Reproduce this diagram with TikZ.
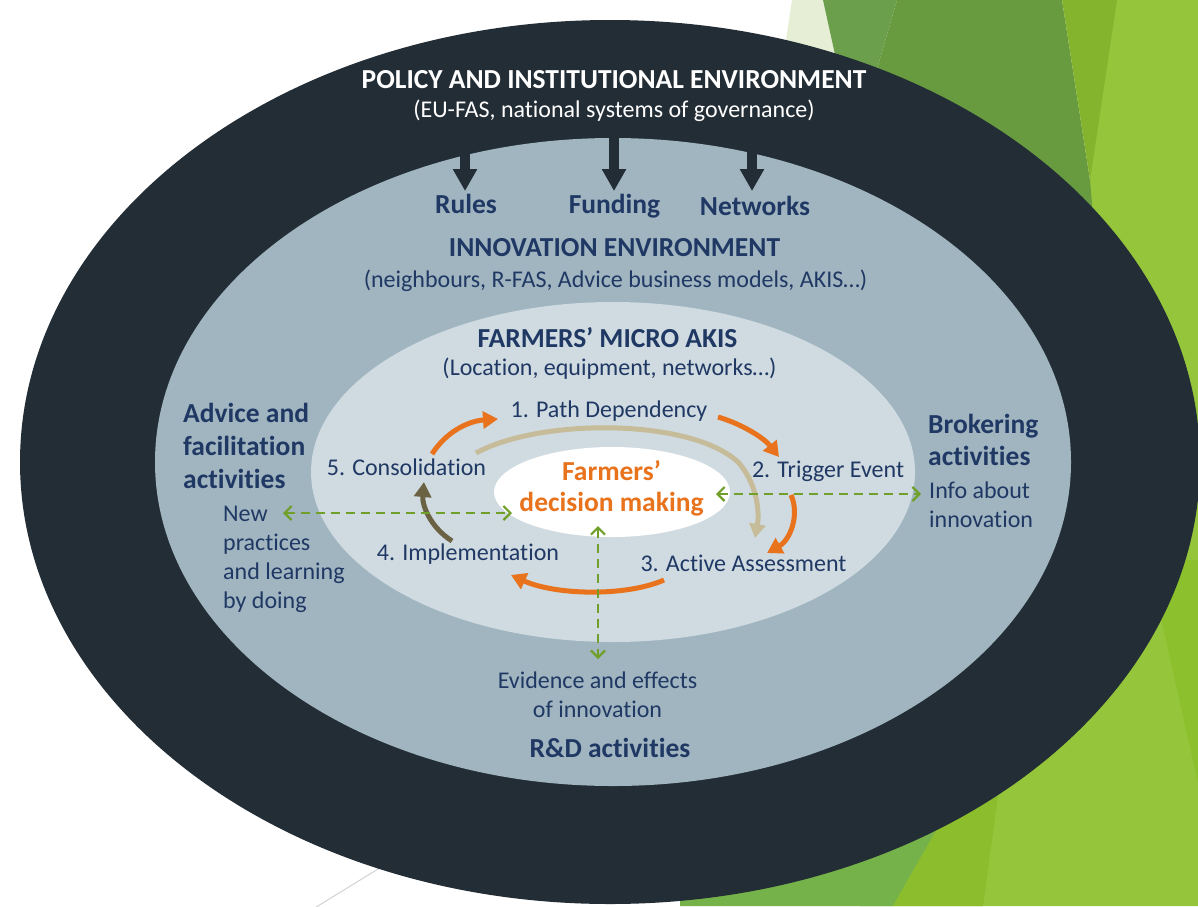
\documentclass[tikz,border=0pt]{standalone}
\usepackage{fontspec}
\setmainfont{Carlito}[Ligatures=NoCommon]
\usetikzlibrary{arrows.meta}
\definecolor{dark}{HTML}{232D35}
\definecolor{midring}{HTML}{A0B5C0}
\definecolor{inring}{HTML}{CFDBE0}
\definecolor{navy}{HTML}{203864}
\definecolor{orng}{HTML}{E8731C}
\definecolor{tanc}{HTML}{C7BC9A}
\definecolor{brn}{HTML}{6B6244}
\definecolor{dgreen}{HTML}{70A02A}
\definecolor{bgLight}{HTML}{E6EFD6}
\definecolor{bgMidL}{HTML}{6C9F4C}
\definecolor{bgMid}{HTML}{689A3F}
\definecolor{bgYG}{HTML}{84B32E}
\definecolor{bgLime}{HTML}{94C53B}
\definecolor{bgLimeB}{HTML}{8CC02C}
\definecolor{bgGreen}{HTML}{76B24A}
\definecolor{bgYGB}{HTML}{8BBD2D}
\tikzset{
  headtxt/.style={font=\fontsize{27.5}{33}\selectfont\bfseries, text=navy, inner sep=0pt},
  bodytxt/.style={font=\fontsize{24}{29}\selectfont, text=navy, inner sep=0pt},
  cycarrow/.style={line width=5pt, draw=orng, -{Triangle[length=15pt,width=17pt]}},
  bigarrow/.style={line width=9.5pt, draw=dark, -{Triangle[length=22pt,width=23pt]}},
  linkarrow/.style={line width=2.2pt, draw=dgreen, dash pattern=on 9pt off 6pt,
     {Straight Barb[length=7pt,width=14pt]}-{Straight Barb[length=7pt,width=14pt]}},
}
\begin{document}
\begin{tikzpicture}[x=1pt,y=-1pt]
\useasboundingbox (0,0) rectangle (1198,906);
\clip (0,0) rectangle (1198,906);
\fill[white] (0,0) rectangle (1198,906);
% background theme shapes
\fill[bgLime] (1090,0) -- (1198,0) -- (1198,906) -- (860,906) -- (1000,300) -- (1090,180) -- cycle;
\fill[bgLight] (792,0) -- (823,0) -- (848,80) -- (780,80) -- cycle;
\fill[bgMidL] (823,0) -- (897,0) -- (868,100) -- (845,100) -- cycle;
\fill[bgMid] (897,0) -- (1062,0) -- (1090,180) -- (1095,240) -- (850,240) -- (868,100) -- cycle;
\fill[bgYG] (1062,0) -- (1117,0) -- (1090,180) -- cycle;
\fill[bgLimeB] (1148,560) -- (1198,560) -- (1198,783) -- cycle;
\fill[bgGreen] (680,906) -- (893,906) -- (965,780) -- (680,780) -- cycle;
\fill[bgYGB] (893,906) -- (983,906) -- (1011,700) -- cycle;
\draw[gray!35, line width=1pt] (300,917) -- (430,837);
% rings
\fill[dark] (610,462) ellipse [x radius=590, y radius=442];
\fill[midring] (613,462) ellipse [x radius=458, y radius=324];
\fill[inring] (613,472) ellipse [x radius=302, y radius=170];
\fill[white] (612,492) ellipse [x radius=118, y radius=45];
% texts
\node[headtxt, text=white, anchor=base] (policy) at (614,88) {POLICY AND INSTITUTIONAL ENVIRONMENT};
\node[bodytxt, text=white, anchor=base] (eufas) at (614,117) {(EU-FAS, national systems of governance)};
\node[headtxt, anchor=base] (rules) at (466,213) {Rules};
\node[headtxt, anchor=base] (funding) at (614.5,213) {Funding};
\node[headtxt, anchor=base] (networks) at (755,215) {Networks};
\node[headtxt, anchor=base] (innov) at (614.5,256) {INNOVATION ENVIRONMENT};
\node[bodytxt, anchor=base] (innovsub) at (615.5,287) {(neighbours, R-FAS, Advice business models, AKIS…)};
\node[headtxt, anchor=base] (micro) at (607.5,347) {FARMERS’ MICRO AKIS};
\node[bodytxt, anchor=base] (microsub) at (609.5,375) {(Location, equipment, networks…)};
\node[bodytxt, anchor=base] (s1) at (609,417) {1. Path Dependency};
\node[bodytxt, anchor=base] (s5) at (406.5,475) {5. Consolidation};
\node[bodytxt, anchor=base] (s2) at (828,477) {2. Trigger Event};
\node[bodytxt, anchor=base] (s4) at (468,560) {4. Implementation};
\node[bodytxt, anchor=base] (s3) at (743.5,571) {3. Active Assessment};
\node[headtxt, font=\fontsize{27.5}{31}\selectfont\bfseries, text=orng, align=center, anchor=base] (dm) at (611.5,511) {Farmers’\\decision making};
\node[headtxt, align=left, anchor=base west] (advice) at (183,488) {Advice and\\facilitation\\activities};
\node[bodytxt, align=left, anchor=base west] (newp) at (223,608) {New\\practices\\and learning\\by doing};
\node[headtxt, font=\fontsize{27.5}{32}\selectfont\bfseries, align=left, anchor=base west] (broker) at (928,465) {Brokering\\activities};
\node[bodytxt, align=left, anchor=base west] (info) at (929,527) {Info about\\innovation};
\node[bodytxt, align=center, anchor=base] (evid) at (597.5,717) {Evidence and effects\\of innovation};
\node[headtxt, anchor=base] (rd) at (610,757) {R\&D activities};
% policy arrows
\coordinate (rulesSrc) at (465,120);
\coordinate (rulesTip) at (465,191);
\coordinate (fundSrc) at (614,120);
\coordinate (fundTip) at (614,191);
\coordinate (netSrc) at (752,120);
\coordinate (netTip) at (752,191);
\draw[bigarrow] (rulesSrc) -- (rulesTip);
\draw[bigarrow] (fundSrc) -- (fundTip);
\draw[bigarrow] (netSrc) -- (netTip);
% cycle arrows
\coordinate (c5a) at (432,454);
\coordinate (c1a) at (498,419);
\coordinate (c1b) at (718,417);
\coordinate (c2a) at (779,457);
\coordinate (c2b) at (791,495);
\coordinate (c3a) at (767,553);
\coordinate (c3b) at (664,580);
\coordinate (c4a) at (511,575);
\coordinate (c4b) at (452,541);
\coordinate (c5b) at (424,482);
\coordinate (tanA) at (476,453);
\coordinate (tanM) at (738,462);
\coordinate (tanB) at (755,538);
\draw[line width=5pt, draw=tanc, -{Triangle[length=14pt,width=16pt]}]
  (tanA) .. controls (540,418) and (690,418) .. (tanM) .. controls (756,482) and (760,510) .. (tanB);
\draw[cycarrow] (c5a) .. controls (446,432) and (468,421) .. (c1a);
\draw[cycarrow] (c1b) .. controls (742,424) and (764,438) .. (c2a);
\draw[cycarrow] (c2b) .. controls (800,515) and (790,540) .. (c3a);
\draw[cycarrow] (c3b) .. controls (625,597) and (555,595) .. (c4a);
\draw[cycarrow, draw=brn] (c4b) .. controls (430,527) and (422,505) .. (c5b);
% dashed links
\coordinate (gNew) at (283,513);
\coordinate (gDmL) at (512,513);
\coordinate (gDmR) at (716,494);
\coordinate (gInfo) at (921,494);
\coordinate (gDmB) at (598,526);
\coordinate (gEv) at (598,659);
\draw[linkarrow] (gNew) -- (gDmL);
\draw[linkarrow] (gDmR) -- (gInfo);
\draw[linkarrow] (gDmB) -- (gEv);
\end{tikzpicture}
\end{document}
